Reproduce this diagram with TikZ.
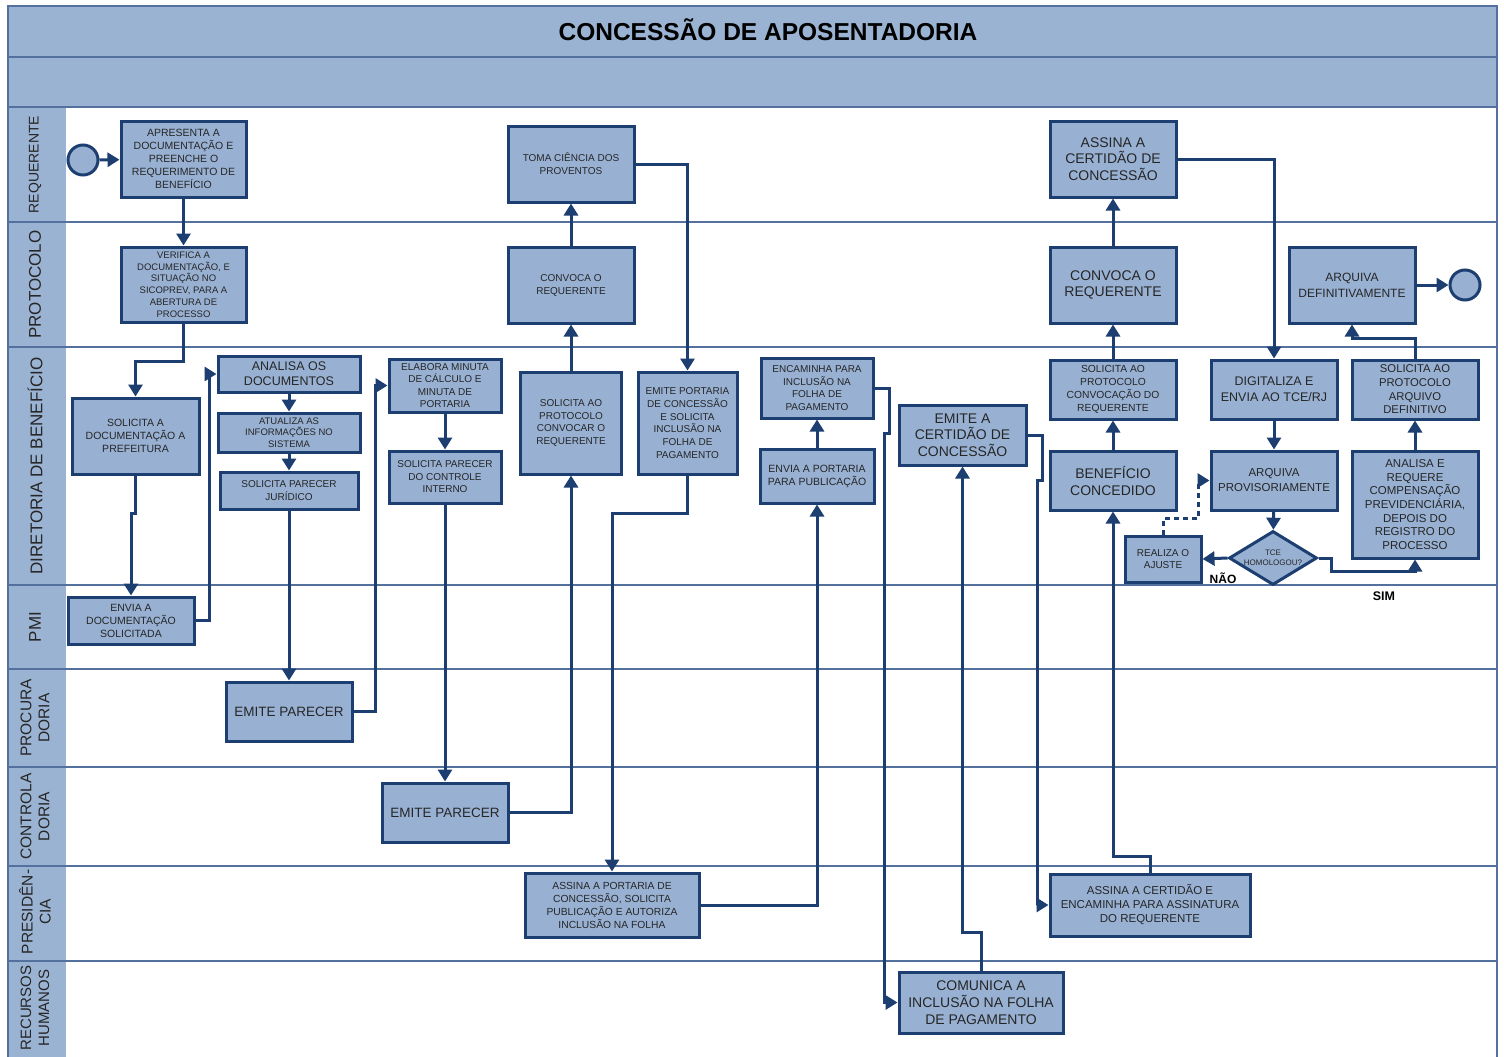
\documentclass[tikz,border=0pt]{standalone}
\usepackage{fontspec}
\setmainfont{Liberation Sans}
\usetikzlibrary{arrows.meta,shapes.geometric}
\definecolor{navy}{RGB}{28,62,112}
\definecolor{bandblue}{RGB}{155,179,211}
\definecolor{boxblue}{RGB}{152,177,211}
\definecolor{laneline}{RGB}{84,112,158}
\newcommand\fsz[2]{\fontsize{#1}{#2}\selectfont}

\begin{document}
\begin{tikzpicture}[x=1pt,y=-1pt,
  box/.style={draw=navy,line width=3pt,fill=boxblue,align=center,inner sep=1pt,text=black!85},
  flow/.style={draw=navy,line width=3pt,-{Triangle[length=12pt,width=14pt]}},
  lane/.style={rotate=90,align=center,text=black!85,font=\fsz{15.5}{18}}]

\useasboundingbox[fill=white] (0,0) rectangle (1504,1057);

\fill[bandblue] (8,6) rectangle (1497,107);
\fill[bandblue] (8,107) rectangle (66,1057);
\draw[laneline,line width=1.5pt] (8,57) -- (1497,57);
\foreach \y in {107,222,347,585,669,767,866,961}
  \draw[laneline,line width=1.5pt] (8,\y) -- (1497,\y);
\draw[laneline,line width=1.5pt] (8,1057) -- (8,6) -- (1497,6) -- (1497,1057);

\node[font=\fsz{24.5}{28}\bfseries] (t) at (768,30) {CONCESSÃO DE APOSENTADORIA};

\node[lane,font=\fsz{14}{16}] (l1) at (35,164.5) {REQUERENTE};
\node[lane,font=\fsz{17}{19}] (l2) at (35,284.5) {PROTOCOLO};
\node[lane,font=\fsz{17}{19}] (l3) at (35,466) {DIRETORIA DE BENEFÍCIO};
\node[lane,font=\fsz{17}{19}] (l4) at (35,627) {PMI};
\node[lane] (l5) at (35,718) {PROCURA\\DORIA};
\node[lane] (l6) at (35,816.5) {CONTROLA\\DORIA};
\node[lane] (l7) at (35,912) {PRESIDÊN-\\CIA};
\node[lane,font=\fsz{15}{18}] (l8) at (35,1008) {RECURSOS\\HUMANOS};

\node[box,circle,minimum size=30pt] (v1) at (83,160) {};
\node[box,minimum width=125pt,minimum height=76pt,font=\fsz{10.5}{13}] (v2) at (183.5,159) {APRESENTA A\\DOCUMENTAÇÃO E\\PREENCHE O\\REQUERIMENTO DE\\BENEFÍCIO};
\node[box,minimum width=125pt,minimum height=75pt,font=\fsz{9.5}{11.7}] (v3) at (183.5,284.5) {VERIFICA A\\DOCUMENTAÇÃO, E\\SITUAÇÃO NO\\SICOPREV, PARA A\\ABERTURA DE\\PROCESSO};
\node[box,minimum width=127pt,minimum height=76pt,font=\fsz{10.5}{13}] (v4) at (135.5,436) {SOLICITA A\\DOCUMENTAÇÃO A\\PREFEITURA};
\node[box,minimum width=126pt,minimum height=47pt,font=\fsz{10.5}{13}] (v5) at (131,620.5) {ENVIA A\\DOCUMENTAÇÃO\\SOLICITADA};
\node[box,minimum width=142pt,minimum height=36pt,font=\fsz{12.5}{14.7}] (v6) at (289,374) {ANALISA OS\\DOCUMENTOS};
\node[box,minimum width=142pt,minimum height=39pt,font=\fsz{9.5}{11.5}] (v7) at (289,432.5) {ATUALIZA AS\\INFORMAÇÕES NO\\SISTEMA};
\node[box,minimum width=138pt,minimum height=37pt,font=\fsz{10}{12.5}] (v8) at (289,490.5) {SOLICITA PARECER\\JURÍDICO};
\node[box,minimum width=126pt,minimum height=59pt,font=\fsz{13.5}{16}] (v9) at (289,711.5) {EMITE PARECER};
\node[box,minimum width=112pt,minimum height=53pt,font=\fsz{10}{12.5}] (v10) at (445,385.5) {ELABORA MINUTA\\DE CÁLCULO E\\MINUTA DE\\PORTARIA};
\node[box,minimum width=112pt,minimum height=52pt,font=\fsz{10}{12.5}] (v11) at (445,477) {SOLICITA PARECER\\DO CONTROLE\\INTERNO};
\node[box,minimum width=126pt,minimum height=59pt,font=\fsz{13.5}{16}] (v12) at (445,812.5) {EMITE PARECER};
\node[box,minimum width=126pt,minimum height=76pt,font=\fsz{10}{13}] (v13) at (571,164) {TOMA CIÊNCIA DOS\\PROVENTOS};
\node[box,minimum width=126pt,minimum height=76pt,font=\fsz{10}{13}] (v14) at (571,285) {CONVOCA O\\REQUERENTE};
\node[box,minimum width=101pt,minimum height=102pt,font=\fsz{10}{12.8}] (v15) at (571,423) {SOLICITA AO\\PROTOCOLO\\CONVOCAR O\\REQUERENTE};
\node[box,minimum width=99pt,minimum height=102pt,font=\fsz{10}{12.7}] (v16) at (687.5,423) {EMITE PORTARIA\\DE CONCESSÃO\\E SOLICITA\\INCLUSÃO NA\\FOLHA DE\\PAGAMENTO};
\node[box,minimum width=174pt,minimum height=64pt,font=\fsz{10.3}{13}] (v17) at (612,905) {ASSINA A PORTARIA DE\\CONCESSÃO, SOLICITA\\PUBLICAÇÃO E AUTORIZA\\INCLUSÃO NA FOLHA};
\node[box,minimum width=112pt,minimum height=60pt,font=\fsz{10}{12.8}] (v18) at (817,388) {ENCAMINHA PARA\\INCLUSÃO NA\\FOLHA DE\\PAGAMENTO};
\node[box,minimum width=114pt,minimum height=54pt,font=\fsz{10.5}{13}] (v19) at (817,476) {ENVIA A PORTARIA\\PARA PUBLICAÇÃO};
\node[box,minimum width=127pt,minimum height=60pt,font=\fsz{14}{16.5}] (v20) at (962.5,435) {EMITE A\\CERTIDÃO DE\\CONCESSÃO};
\node[box,minimum width=164pt,minimum height=61pt,font=\fsz{14}{17}] (v21) at (981,1002.5) {COMUNICA A\\INCLUSÃO NA FOLHA\\DE PAGAMENTO};
\node[box,minimum width=126pt,minimum height=76pt,font=\fsz{14}{16.5}] (v22) at (1113,159) {ASSINA A\\CERTIDÃO DE\\CONCESSÃO};
\node[box,minimum width=126pt,minimum height=76pt,font=\fsz{14}{16.5}] (v23) at (1113,285) {CONVOCA O\\REQUERENTE};
\node[box,minimum width=126pt,minimum height=59pt,font=\fsz{10.3}{13}] (v24) at (1113,389.5) {SOLICITA AO\\PROTOCOLO\\CONVOCAÇÃO DO\\REQUERENTE};
\node[box,minimum width=126pt,minimum height=59pt,font=\fsz{14}{17}] (v25) at (1113,480.5) {BENEFÍCIO\\CONCEDIDO};
\node[box,minimum width=200pt,minimum height=62pt,font=\fsz{11.5}{14}] (v26) at (1150,905) {ASSINA A CERTIDÃO E\\ENCAMINHA PARA ASSINATURA\\DO REQUERENTE};
\node[box,minimum width=126pt,minimum height=59pt,font=\fsz{12.5}{16}] (v27) at (1274,389.5) {DIGITALIZA E\\ENVIA AO TCE/RJ};
\node[box,minimum width=126pt,minimum height=59pt,font=\fsz{11.5}{15}] (v28) at (1274,480.5) {ARQUIVA\\PROVISORIAMENTE};
\node[box,diamond,aspect=1.63,inner sep=0pt,minimum width=88pt,minimum height=54pt,font=\fsz{8}{10}] (v29) at (1273,558) {TCE\\HOMOLOGOU?};
\node[box,minimum width=76pt,minimum height=46pt,font=\fsz{10}{12}] (v30) at (1163,559) {REALIZA O\\AJUSTE};
\node[box,minimum width=126pt,minimum height=107pt,font=\fsz{11.5}{13.7}] (v31) at (1415,504.5) {ANALISA E\\REQUERE\\COMPENSAÇÃO\\PREVIDENCIÁRIA,\\DEPOIS DO\\REGISTRO DO\\PROCESSO};
\node[box,minimum width=126pt,minimum height=59pt,font=\fsz{11.3}{13.7}] (v32) at (1415,389.5) {SOLICITA AO\\PROTOCOLO\\ARQUIVO\\DEFINITIVO};
\node[box,minimum width=126pt,minimum height=76pt,font=\fsz{12}{16}] (v33) at (1352,285) {ARQUIVA\\DEFINITIVAMENTE};
\node[box,circle,minimum size=30pt] (v34) at (1465,285) {};

\node[font=\fsz{12}{14}\bfseries] (v35) at (1223,578) {NÃO};
\node[font=\fsz{12.5}{14}\bfseries] (v36) at (1384,596) {SIM};

\draw[flow] (v1) -- (v2);
\draw[flow] (v2) -- (v3);
\draw[flow] (v3.south) -- ++(0,38) -| (v4.north);
\draw[flow] (v4.south) -- ++(0,38) -| (v5.north);
\draw[flow] (v5.east) -- ++(14,0) |- (v6.west);
\draw[flow] (v6) -- (v7);
\draw[flow] (v7) -- (v8);
\draw[flow] (v8) -- (v9);
\draw[flow] (v9.east) -- ++(22,0) |- (v10.west);
\draw[flow] (v10) -- (v11);
\draw[flow] (v11) -- (v12);
\draw[flow] (v12.east) -| (v15.south);
\draw[flow] (v15) -- (v14);
\draw[flow] (v14) -- (v13);
\draw[flow] (v13.east) -| (v16.north);
\draw[flow] (v16.south) -- ++(0,38) -| (v17.north);
\draw[flow] (v17.east) -| (v19.south);
\draw[flow] (v19) -- (v18);
\draw[flow] (v18.east) -- ++(15,0) -- ++(0,45) -- ++(-5,0) |- (v21.west);
\draw[flow] (v21.north) -- ++(0,-38) -| (v20.south);
\draw[flow] (v20.east) -- ++(15,0) -- ++(0,45) -- ++(-5,0) |- (v26.west);
\draw[flow] (v26.north) -- ++(0,-16) -| (v25.south);
\draw[flow] (v25) -- (v24);
\draw[flow] (v24) -- (v23);
\draw[flow] (v23) -- (v22);
\draw[flow] (v22.east) -| (v27.north);
\draw[flow] (v27) -- (v28);
\draw[flow] (v28) -- (v29);
\draw[flow] (v29.west) -- (v30.east);
\draw[flow,dash pattern=on 5pt off 4pt] (v30.north) -- ++(0,-16) -- ++(35,0) |- (v28.west);
\draw[flow] (v29.east) -- ++(13,0) -- ++(0,13) -| (v31.south);
\draw[flow] (v31) -- (v32);
\draw[flow] (v32.north) -- ++(0,-20) -| (v33.south);
\draw[flow] (v33) -- (v34);

\end{tikzpicture}
\end{document}
